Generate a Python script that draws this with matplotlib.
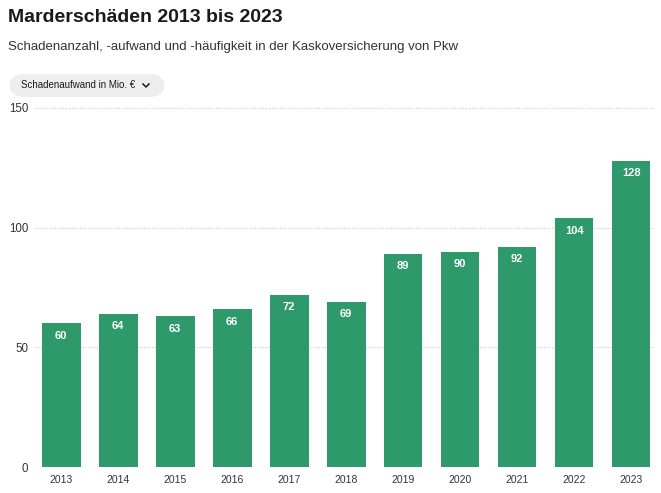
import matplotlib.pyplot as plt
from matplotlib.patches import FancyBboxPatch
from matplotlib.lines import Line2D

years = ['2013', '2014', '2015', '2016', '2017', '2018', '2019', '2020', '2021', '2022', '2023']
values = [60, 64, 63, 66, 72, 69, 89, 90, 92, 104, 128]
y_ticks = [0, 50, 100, 150]

title = 'Marderschäden 2013 bis 2023'
subtitle = 'Schadenanzahl, -aufwand und -häufigkeit in der Kaskoversicherung von Pkw'
button_label = 'Schadenaufwand in Mio. €'

GREEN = '#2e9a6b'
TEXT = '#1a1a1a'

plt.rcParams['font.family'] = ['Liberation Sans', 'DejaVu Sans']

fig = plt.figure(figsize=(6.61, 4.93), dpi=100)
W, H = 661, 493

ax = fig.add_axes([35 / W, 26 / H, 620 / W, 359 / H])
x = range(len(years))
ax.bar(x, values, width=0.68, color=GREEN, zorder=2)
for xi, v in zip(x, values):
    ax.annotate(str(v), (xi, v), xytext=(0, -9), textcoords='offset points',
                ha='center', va='center', color='white', fontsize=8, fontweight='bold', zorder=3)

ax.set_xlim(-0.46, 10.42)
ax.set_ylim(0, 150)
ax.set_yticks(y_ticks)
ax.yaxis.grid(True, linestyle=(0, (1, 1.5)), color='#c8c8c8', linewidth=0.8, zorder=0)
ax.set_xticks(list(x))
ax.set_xticklabels(years)
ax.set_yticklabels([str(t) for t in y_ticks])
ax.tick_params(axis='both', length=0, colors='#333333')
ax.tick_params(axis='x', pad=6, labelsize=7.5)
ax.tick_params(axis='y', pad=5, labelsize=8.3)
for s in ax.spines.values():
    s.set_visible(False)

# header texts
fig.text(8 / W, 1 - 17 / H, title, fontsize=14, fontweight='bold', color=TEXT, va='center', ha='left')
fig.text(8 / W, 1 - 47 / H, subtitle, fontsize=9.5, color='#333333', va='center', ha='left')

# dropdown pill
pill = FancyBboxPatch((9 / W, 1 - 97 / H), 156 / W, 23 / H,
                      boxstyle='round,pad=0,rounding_size=0.023',
                      transform=fig.transFigure, facecolor='#eeeeee', edgecolor='none',
                      mutation_aspect=W / H)
fig.patches.append(pill)
fig.text(21 / W, 1 - 85.5 / H, button_label, fontsize=7, color=TEXT, va='center', ha='left')
fig.lines.append(Line2D([143 / W, 146 / W, 149 / W], [1 - 84 / H, 1 - 87 / H, 1 - 84 / H],
                        transform=fig.transFigure, color=TEXT, linewidth=1.1))

fig.savefig('out.png', dpi=100)
